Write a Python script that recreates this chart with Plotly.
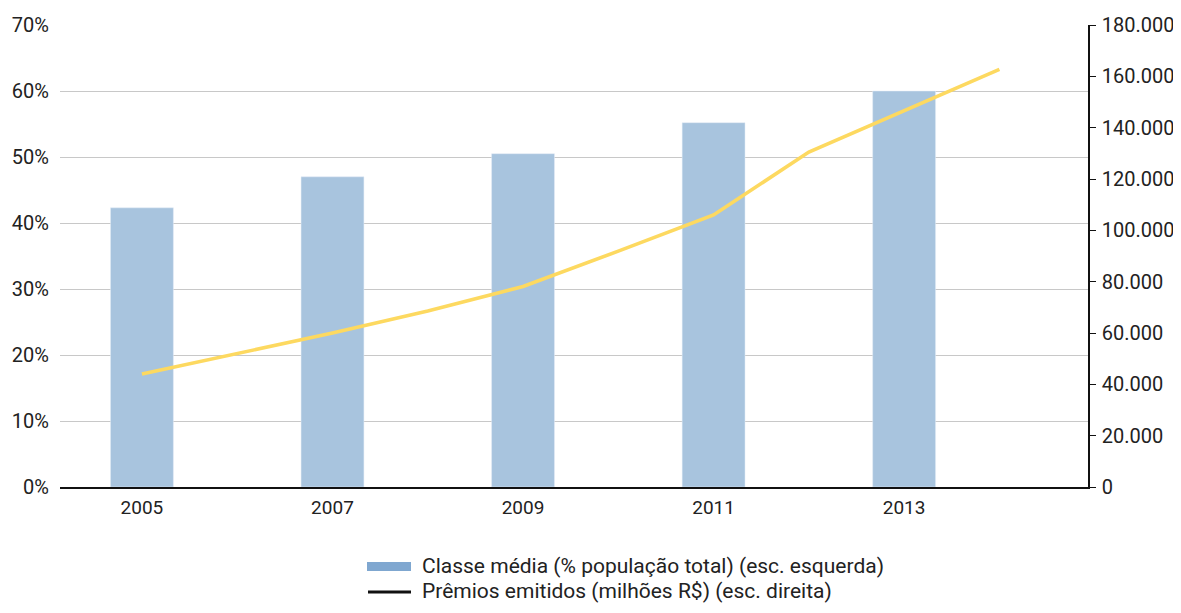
import plotly.graph_objects as go

# dados
anos_barras = [2005, 2007, 2009, 2011, 2013]
classe_media = [42.3, 47.0, 50.5, 55.2, 60.0]

anos_linha = [2005, 2006, 2007, 2008, 2009, 2010, 2011, 2012, 2013, 2014]
premios = [44000, 52000, 60000, 68600, 78100, 91900, 106000, 130500, 146500, 162700]

nome_barras = "Classe média (% população total) (esc. esquerda)"
nome_linha = "Prêmios emitidos (milhões R$) (esc. direita)"

cor_barra = "#a8c4de"
cor_linha = "#fdd960"
fonte = "Roboto"

# a página tem 8px de margem no body, por isso a figura é 16px menor
L, T, W, H = 52, 17, 1165, 597
plot_w = 1028
plot_h = 462

fig = go.Figure()

fig.add_trace(go.Bar(x=anos_barras, y=classe_media, name=nome_barras,
                     marker_color=cor_barra, width=0.66, showlegend=False))
fig.add_trace(go.Scatter(x=anos_linha, y=premios, name=nome_linha, yaxis="y2",
                         mode="lines", line=dict(color=cor_linha, width=3.6),
                         showlegend=False))

fig.update_layout(
    width=W, height=H,
    margin=dict(l=L, r=W - L - plot_w, t=T, b=H - T - plot_h),
    plot_bgcolor="white", paper_bgcolor="white",
    separators=",.",
    font=dict(family=fonte, size=20, color="#222222"),
    xaxis=dict(range=[2004.14, 2014.93], tickvals=anos_barras, automargin=False,
               showgrid=False, showline=True, linecolor="#111111", linewidth=1.5,
               ticks="", ticklabelstandoff=2,
               tickfont=dict(size=19)),
    yaxis=dict(range=[0, 70], dtick=10, ticksuffix="%", showgrid=True,
               automargin=False,
               gridcolor="#c8c8c8", gridwidth=1, zeroline=False,
               showline=False, ticklabelstandoff=10),
    yaxis2=dict(range=[0, 180000], dtick=20000, tickformat=",d", overlaying="y",
                side="right", showgrid=False, zeroline=False, showline=True,
                automargin=False,
                linecolor="#111111", linewidth=1.5, ticks="outside", ticklen=6,
                tickcolor="#111111", ticklabelstandoff=2),
)

# legenda desenhada à mão (símbolos como no original), posições em px da imagem
def px_x(x):
    return (x - 8 - L) / plot_w

def px_y(y):
    return (T + plot_h - (y - 8)) / plot_h

fig.add_shape(type="rect", xref="paper", yref="paper",
              x0=px_x(367), x1=px_x(411), y0=px_y(571), y1=px_y(562),
              fillcolor="#7fa7d0", line_width=0)
fig.add_shape(type="line", xref="paper", yref="paper",
              x0=px_x(368), x1=px_x(411), y0=px_y(592), y1=px_y(592),
              line=dict(color="#111111", width=3))
fig.add_annotation(text=nome_barras, xref="paper", yref="paper",
                   x=px_x(420), y=px_y(566),
                   xanchor="left", yanchor="middle", showarrow=False,
                   font=dict(size=21))
fig.add_annotation(text=nome_linha, xref="paper", yref="paper",
                   x=px_x(420), y=px_y(591),
                   xanchor="left", yanchor="middle", showarrow=False,
                   font=dict(size=21))

fig.write_html("out.html")
